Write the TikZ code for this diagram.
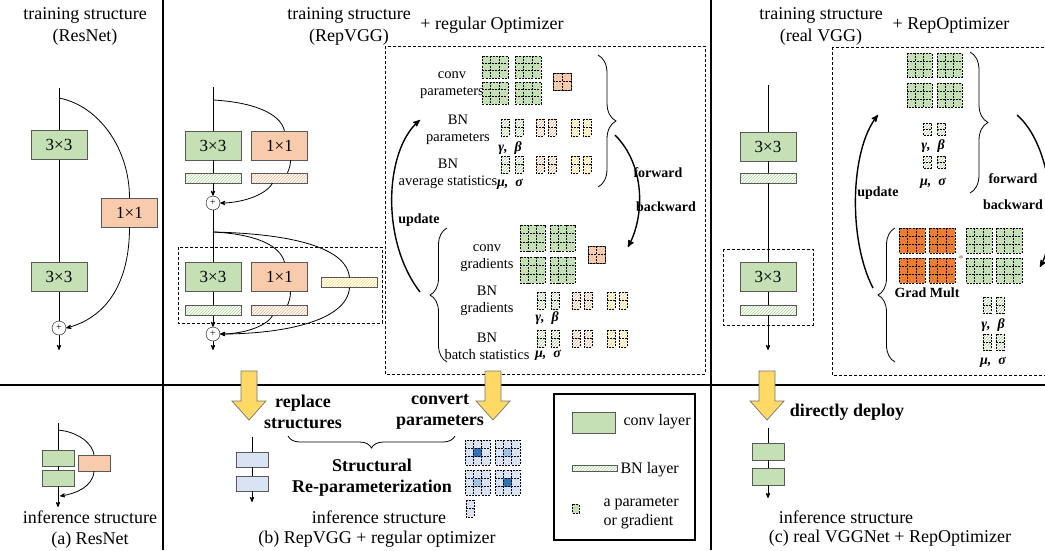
\documentclass[tikz,border=0pt]{standalone}
\usepackage{fontspec}
\setmainfont{Liberation Serif}
\usetikzlibrary{arrows,positioning,patterns,decorations.pathreplacing}
\definecolor{convgreen}{HTML}{C5E0B4}
\definecolor{onebyone}{HTML}{F8CBAD}
\definecolor{gradmult}{HTML}{ED7D31}
\definecolor{deployblue}{HTML}{DAE3F3}
\definecolor{darkblue}{HTML}{2E75B6}
\definecolor{lightblue}{HTML}{9DC3E6}
\definecolor{arrowyellow}{HTML}{FFD966}
\definecolor{hatchgreen}{HTML}{A9D18E}
\definecolor{hatchorange}{HTML}{F4B183}
\definecolor{hatchyellow}{HTML}{FFD966}
\tikzset{
    %Define standard arrow tip
    >=stealth',
    %Define style for layers
    conv/.style={
           rectangle,
           draw=black!65,
           fill=convgreen,
           minimum width=56,
           minimum height=29,
           inner sep=0,
           font=\fontsize{17}{17}\selectfont},
    onebyone/.style={conv, fill=onebyone},
    bn/.style={
           rectangle,
           draw=black!65,
           preaction={fill=white},
           pattern=north east lines,
           pattern color=#1,
           minimum width=56,
           minimum height=10,
           inner sep=0},
    bn/.default=hatchgreen,
    addop/.style={
           circle,
           draw, fill=white,
           minimum size=14,
           inner sep=0,
           font=\fontsize{10}{10}\selectfont},
    minibox/.style={
           rectangle,
           draw=black!65,
           fill=convgreen,
           minimum width=32,
           minimum height=16,
           inner sep=0},
    % Define text styles
    title/.style={font=\fontsize{18}{21}\selectfont, align=center},
    small/.style={font=\fontsize{14.5}{17}\selectfont, align=center},
    legend/.style={font=\fontsize{16}{19}\selectfont, align=left},
    smallbf/.style={font=\fontsize{14}{16}\selectfont\bfseries, align=center},
    big/.style={font=\fontsize{18}{21}\selectfont\bfseries, align=center},
    greek/.style={font=\fontsize{14}{16}\selectfont\bfseries\itshape},
    % Define line styles
    sep/.style={line width=1.6pt},
    wire/.style={line width=0.8pt},
    flow/.style={line width=1.4pt, ->},
    dashedbox/.style={densely dashed, line width=0.7pt},
    gridln/.style={dash pattern=on 2pt off 1.2pt, line width=0.5pt},
    curly/.style={decorate, decoration={brace, amplitude=#1}, line width=0.8pt},
    curly/.default=16pt
}
% a kernel of n x n cells
\newcommand{\kgrid}[6]{%
  \fill[#5] (#1,#2) rectangle ++(#3,#4);
  \pgfmathtruncatemacro{\kn}{#6-1}
  \foreach \k in {1,...,\kn}{
    \draw[gridln] ({#1+\k*#3/#6},#2) -- ++(0,#4);
    \draw[gridln] (#1,{#2+\k*#4/#6}) -- ++(#3,0);
  }
  \draw[gridln] (#1,#2) rectangle ++(#3,#4);
}
% a BN parameter (two channels)
\newcommand{\prect}[5]{%
  \fill[white] (#1,#2) rectangle ++(#3,#4);
  \fill[pattern=north east lines, pattern color=#5] (#1,#2) rectangle ++(#3,#4);
  \draw[gridln] (#1,{#2+#4/2}) -- ++(#3,0);
  \draw[gridln] (#1,#2) rectangle ++(#3,#4);
}
% a converted 3x3 kernel
\newcommand{\bgrid}[3]{%
  \fill[deployblue] (#1,#2) rectangle ++(25,25);
  \fill[#3] ({#1+25/3},{#2+25/3}) rectangle ++(25/3,25/3);
  \foreach \k in {1,2}{
    \draw[gridln] ({#1+\k*25/3},#2) -- ++(0,25);
    \draw[gridln] (#1,{#2+\k*25/3}) -- ++(25,0);
  }
  \draw[gridln] (#1,#2) rectangle ++(25,25);
}
\newcommand{\deployarrow}[1]{%
  \filldraw[fill=arrowyellow, draw=black!55, line width=0.7pt]
    ({#1-8},371) -- ({#1+8},371) -- ({#1+8},401) -- ({#1+17},401)
    -- (#1,420) -- ({#1-17},401) -- ({#1-8},401) -- cycle;
}

\begin{document}
\begin{tikzpicture}[x=1pt,y=-1pt]
\useasboundingbox (0,0) rectangle (1045,550);
\clip (0,0) rectangle (1045,550);

% frame
\draw[sep] (163,0) -- (163,550);
\draw[sep] (711,0) -- (711,550);
\draw[sep] (0,385) -- (1045,385);

% titles
\node[title] (ta1) at (85,15) {training structure};
\node[title] (ta2) at (85,37) {(ResNet)};
\node[title] (tb1) at (349,15) {training structure};
\node[title] (tb2) at (349,37) {(RepVGG)};
\node[title] (tb3) at (492,25) {+ regular Optimizer};
\node[title] (tc1) at (821,15) {training structure};
\node[title] (tc2) at (821,37) {(real VGG)};
\node[title] (tc3) at (951,25) {+ RepOptimizer};

% (a) ResNet, training
\coordinate (a0) at (59,88);
\coordinate (as) at (59,98);
\node[conv] (a1) at (59,145) {3×3};
\node[onebyone] (a2) at (129.5,212.5) {1×1};
\node[conv] (a3) at (59,277) {3×3};
\node[addop] (ap) at (59,328) {+};
\coordinate (aout) at (59,350);
\draw[wire] (a0) -- (a1);
\draw[wire] (a1) -- (a3);
\draw[wire] (a3) -- (ap);
\draw[wire,->] (ap) -- (aout);
\draw[wire] (as) .. controls (100,106) and (129.5,150) .. (a2.north);
\draw[wire,->] (a2.south) .. controls (129.5,285) and (105,318) .. (ap.east);

% (b) RepVGG, training
\coordinate (b0) at (213,87);
\coordinate (bs) at (213,100);
\node[conv] (b1) at (213,145.5) {3×3};
\node[onebyone] (b2) at (279.5,145.5) {1×1};
\node[bn] (b1n) at (213,178) {};
\node[bn=hatchorange] (b2n) at (279.5,178) {};
\node[addop] (bp) at (213,203) {+};
\coordinate (bs2) at (213,232);
\node[conv] (b3) at (213,277) {3×3};
\node[onebyone] (b4) at (279.5,277) {1×1};
\node[bn] (b3n) at (213,310.5) {};
\node[bn=hatchorange] (b4n) at (279.5,310.5) {};
\node[bn=hatchyellow] (b5n) at (349.5,282.5) {};
\node[addop] (bp2) at (213,334) {+};
\coordinate (bout) at (213,350);
\draw[wire] (b0) -- (b1);
\draw[wire] (b1) -- (b1n);
\draw[wire,->] (b1n) -- (bp);
\draw[wire] (bp) -- (b3);
\draw[wire] (b3) -- (b3n);
\draw[wire,->] (b3n) -- (bp2);
\draw[wire,->] (bp2) -- (bout);
\draw[wire] (bs) .. controls (250,102) and (280,112) .. ([xshift=5]b2.north);
\draw[wire] ([xshift=11]b2.south) .. controls +(0,5) and +(2,-5) .. ([xshift=8]b2n.north);
\draw[wire,->] ([xshift=-7]b2n.south) .. controls (265,196) and (240,203) .. (bp.east);
\draw[wire] (bs2) .. controls (255,234) and (280,245) .. ([xshift=5]b4.north);
\draw[wire] (bs2) .. controls (300,234) and (347,250) .. (b5n.north);
\draw[wire] ([xshift=11]b4.south) .. controls +(0,5) and +(2,-5) .. ([xshift=8]b4n.north);
\draw[wire,->] ([xshift=-7]b4n.south) .. controls (265,328) and (240,334) .. (bp2.east);
\draw[wire,->] (b5n.south) .. controls (347,322) and (280,334) .. (bp2.east);
\draw[dashedbox] (178,247) rectangle (382,323);

% regular optimizer
\draw[dashedbox] (385,46) rectangle (705,374);
\node[small] (lp1) at (452,85) {conv\\parameters};
\node[small] (lp2) at (458,130) {BN\\parameters};
\node[small] (lp3) at (448,174) {BN\\average statistics};
\foreach \x/\y in {482/56, 515/56, 482/82, 515/82}
  \kgrid{\x}{\y}{26}{22}{convgreen}{3};
\kgrid{553}{73}{18}{17}{onebyone}{2}
\foreach \y in {119,156}{
  \prect{501}{\y}{8}{17}{hatchgreen}
  \prect{515}{\y}{8}{17}{hatchgreen}
  \prect{536}{\y}{8}{17}{hatchorange}
  \prect{548}{\y}{8}{17}{hatchorange}
  \prect{571}{\y}{8}{17}{hatchyellow}
  \prect{583}{\y}{8}{17}{hatchyellow}
}
\node[greek] (gb1) at (510,148) {γ,\ \ β};
\node[greek] (ms1) at (510,184) {μ,\ \ σ};
\draw[curly=18pt] (598,55) -- (598,187);

\node[small] (lg1) at (487,258) {conv\\gradients};
\node[small] (lg2) at (487,301) {BN\\gradients};
\node[small] (lg3) at (487,346) {BN\\batch statistics};
\foreach \x/\y in {520/225, 550/225, 520/257, 550/257}
  \kgrid{\x}{\y}{25}{26}{convgreen}{3};
\kgrid{588}{246}{17}{17}{onebyone}{2}
\foreach \y in {292,330}{
  \prect{537}{\y}{8}{17}{hatchgreen}
  \prect{551}{\y}{8}{17}{hatchgreen}
  \prect{572}{\y}{8}{17}{hatchorange}
  \prect{584}{\y}{8}{17}{hatchorange}
  \prect{607}{\y}{8}{17}{hatchyellow}
  \prect{619}{\y}{8}{17}{hatchyellow}
}
\node[greek] (gb2) at (547,318) {γ,\ \ β};
\node[greek] (ms2) at (548,355) {μ,\ \ σ};
\draw[curly=17pt] (447,362) -- (447,228);

\coordinate (fw0) at (615,135);
\coordinate (fw1) at (628,247);
\coordinate (up0) at (420,292);
\coordinate (up1) at (420,120);
\draw[flow] (fw0) .. controls (645,165) and (645,215) .. (fw1);
\draw[flow] (up0) .. controls (380,240) and (385,150) .. (up1);
\node[smallbf] (fwd1) at (658,173) {forward};
\node[smallbf] (bwd1) at (666,207) {backward};
\node[smallbf] (upd1) at (419,220) {update};

% (c) real VGG, training
\coordinate (c0) at (768,85);
\node[conv] (c1) at (768,146.5) {3×3};
\node[bn] (c1n) at (768,178) {};
\node[conv] (c2) at (768,277) {3×3};
\node[bn] (c2n) at (768,310) {};
\coordinate (cout) at (768,350);
\draw[wire] (c0) -- (c1);
\draw[wire] (c1) -- (c1n);
\draw[wire] (c1n) -- (c2);
\draw[wire] (c2) -- (c2n);
\draw[wire,->] (c2n) -- (cout);
\draw[dashedbox] (723,249) rectangle (813,325);

% RepOptimizer
\draw[dashedbox] (832,47) rectangle (1060,375);
\foreach \x/\y in {907/53, 937/53, 907/83, 937/83}
  \kgrid{\x}{\y}{25}{24}{convgreen}{3};
\foreach \y in {123,156}{
  \prect{923}{\y}{8}{12}{hatchgreen}
  \prect{937}{\y}{8}{12}{hatchgreen}
}
\node[greek] (gb3) at (933,146) {γ,\ \ β};
\node[greek] (ms3) at (933,183) {μ,\ \ σ};
\draw[curly=18pt] (970,52) -- (970,193);

\foreach \x/\y in {899/228, 929/228, 899/258, 929/258}
  \kgrid{\x}{\y}{26}{25}{gradmult}{3};
\foreach \x/\y in {966/228, 996/228, 966/258, 996/258}
  \kgrid{\x}{\y}{26}{25}{convgreen}{3};
\node[font=\fontsize{11}{11}\selectfont, text=black!50] (mul) at (961,259) {*};
\node[smallbf] (gm) at (927,293) {Grad Mult};
\foreach \y in {297,334}{
  \prect{983}{\y}{8}{16}{hatchgreen}
  \prect{996}{\y}{8}{16}{hatchgreen}
}
\node[greek] (gb4) at (993,325) {γ,\ \ β};
\node[greek] (ms4) at (993,362) {μ,\ \ σ};
\draw[curly=17pt] (895,362) -- (895,228);

\coordinate (fw2) at (1017,115);
\coordinate (fw3) at (1040,267);
\coordinate (up2) at (873,288);
\coordinate (up3) at (878,115);
\draw[flow] (fw2) .. controls (1052,145) and (1060,230) .. (fw3);
\draw[flow] (up2) .. controls (848,240) and (850,150) .. (up3);
\node[smallbf] (fwd2) at (1013,179) {forward};
\node[smallbf] (bwd2) at (1013,205) {backward};
\node[smallbf] (upd2) at (878,193) {update};

% deployment arrows
\deployarrow{249}
\deployarrow{493}
\deployarrow{767}

% (a) inference
\coordinate (d0) at (58,423);
\coordinate (ds) at (58,430);
\node[minibox] (d1) at (58,458) {};
\node[minibox] (d2) at (58,478) {};
\node[minibox, fill=onebyone] (d3) at (94,463) {};
\coordinate (dj) at (60,496);
\coordinate (dout) at (58,507);
\draw[wire] (d0) -- (d1);
\draw[wire] (d1) -- (d2);
\draw[wire,->] (d2) -- (dout);
\draw[wire] (ds) .. controls (80,432) and (93,445) .. (d3.north);
\draw[wire,->] (d3.south) .. controls (93,487) and (75,494) .. (dj);
\node[title] (ia1) at (90,517) {inference structure};
\node[title] (ia2) at (90,540) {(a) ResNet};

% (b) inference
\coordinate (e0) at (252,437);
\node[minibox, fill=deployblue, minimum height=15] (e1) at (252,459.5) {};
\node[minibox, fill=deployblue, minimum height=15] (e2) at (252,483.5) {};
\coordinate (eout) at (252,502);
\draw[wire] (e0) -- (e1);
\draw[wire] (e1) -- (e2);
\draw[wire,->] (e2) -- (eout);
\node[big] (rs) at (303,412) {replace\\structures};
\node[big] (cp) at (440,412) {convert\\parameters};
\draw[curly=12pt] (455,436) -- (288,436);
\node[big] (srp) at (372,478) {Structural\\Re-parameterization};
\bgrid{465}{440}{darkblue}
\bgrid{495}{440}{lightblue}
\bgrid{465}{470}{lightblue}
\bgrid{495}{470}{darkblue}
\fill[deployblue] (466,500) rectangle ++(8,17);
\draw[gridln] (466,508.5) -- ++(8,0);
\draw[gridln] (466,500) rectangle ++(8,17);
\node[title] (ib1) at (379,517) {inference structure};
\node[title] (ib2) at (377,539) {(b) RepVGG + regular optimizer};

% legend
\draw[line width=1.1pt] (554,394) rectangle (695,540);
\node[minibox, minimum width=43, minimum height=21] (lgc) at (593.5,422.5) {};
\node[legend, anchor=west] (lgct) at (620,422) {conv layer};
\node[bn, minimum width=45, minimum height=6] (lgb) at (594.5,468) {};
\node[legend, anchor=west] (lgbt) at (617,470) {BN layer};
\fill[convgreen] (572,504) rectangle ++(7,9);
\draw[gridln] (572,504) rectangle ++(7,9);
\node[legend, anchor=west] (lgpt) at (600,513) {a parameter\\or gradient};

% (c) inference
\node[big] (dd) at (847,412) {directly deploy};
\coordinate (f0) at (768,428);
\node[minibox, minimum height=17] (f1) at (768,451.5) {};
\node[minibox, minimum height=17] (f2) at (768,476.5) {};
\coordinate (fout) at (768,498);
\draw[wire] (f0) -- (f1);
\draw[wire] (f1) -- (f2);
\draw[wire,->] (f2) -- (fout);
\node[title] (ic1) at (846,517) {inference structure};
\node[title] (ic2) at (890,538) {(c) real VGGNet + RepOptimizer};
\end{tikzpicture}
\end{document}
